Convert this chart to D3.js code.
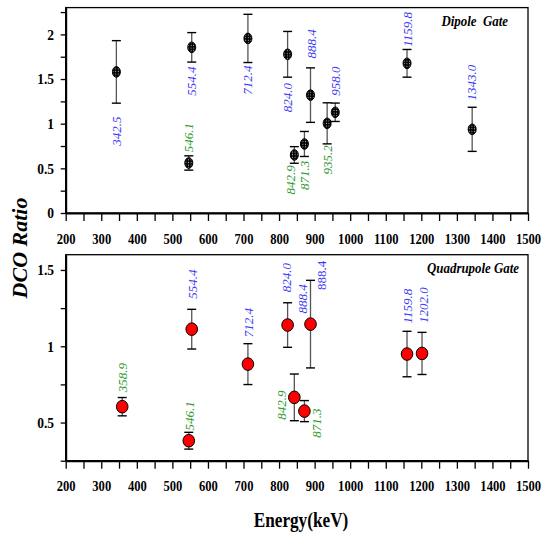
<!DOCTYPE html>
<html>
<head>
<meta charset="utf-8">
<script src="https://cdn.jsdelivr.net/npm/d3@7"></script>
<style>
  body { margin: 0; background: #fff; }
  svg { display: block; font-family: "Liberation Serif", "DejaVu Serif", serif; }
  .tick text { font-family: "Liberation Serif", serif; font-weight: bold; font-size: 15px; fill: #000; }
  .tick line { stroke: #000; stroke-width: 1.3; }
  .domain { stroke: #000; stroke-width: 2; }
</style>
</head>
<body>
<div id="chart"></div>
<script>

var svgWidth = 546;
var svgHeight = 535;

// x axis (shared)
var xTickLabels = [200, 300, 400, 500, 600, 700, 800, 900, 1000, 1100, 1200, 1300, 1400, 1500];

// Dipole gate (top panel)
var dipoleEnergy = [342.5, 546.1, 554.4, 712.4, 824.0, 842.9, 871.3, 888.4, 935.2, 958.0, 1159.8, 1343.0];
var dipoleRatio  = [1.58, 0.56, 1.855, 1.955, 1.777, 0.65, 0.773, 1.32, 1.004, 1.128, 1.676, 0.937];
var dipoleError  = [0.35, 0.08, 0.165, 0.27, 0.256, 0.093, 0.14, 0.305, 0.23, 0.103, 0.155, 0.247];
var dipoleLabel  = ["342.5", "546.1", "554.4", "712.4", "824.0", "842.9", "871.3", "888.4", "935.2", "958.0", "1159.8", "1343.0"];
var dipoleLabelColor = ["blue", "green", "blue", "blue", "blue", "green", "green", "blue", "green", "blue", "blue", "blue"];
// where each label sits, in data units (keV, ratio)
var dipoleLabelE = [342.5, 546.1, 554.4, 712.4, 824.0, 832.7, 870.0, 892.0, 935.0, 959.0, 1161.7, 1341.7];
var dipoleLabelR = [0.918, 0.845, 1.478, 1.489, 1.293, 0.37, 0.42, 1.893, 0.594, 1.478, 2.055, 1.461];
var dipoleYTicks = ["0", "0.5", "1", "1.5", "2"];

// Quadrupole gate (bottom panel)
var quadEnergy = [358.9, 546.1, 554.4, 712.4, 824.0, 842.9, 871.3, 888.4, 1159.8, 1202.0];
var quadRatio  = [0.604, 0.381, 1.112, 0.883, 1.139, 0.665, 0.575, 1.145, 0.949, 0.953];
var quadError  = [0.06, 0.055, 0.13, 0.134, 0.146, 0.153, 0.069, 0.287, 0.149, 0.138];
var quadLabel  = ["358.9", "546.1", "554.4", "712.4", "824.0", "842.9", "871.3", "888.4", "888.4", "1159.8", "1202.0"];
var quadLabelColor = ["green", "green", "blue", "blue", "blue", "green", "green", "blue", "blue", "blue", "blue"];
var quadLabelItalic = [true, true, true, true, true, true, true, true, false, true, true];
var quadLabelE = [360, 547.6, 556, 713.5, 821.5, 807.5, 906, 867, 920, 1160, 1205.6];
var quadLabelR = [0.795, 0.543, 1.407, 1.155, 1.45, 0.615, 0.497, 1.31, 1.464, 1.263, 1.27];
var quadYTicks = ["0.5", "1", "1.5"];

var colors = { blue: "#3c3cf5", green: "#2f9a2f" };

var svg = d3.select("#chart")
  .append("svg")
  .attr("width", svgWidth)
  .attr("height", svgHeight);

// dotted fill for the dipole markers
var pat = svg.append("defs").append("pattern")
  .attr("id", "dots")
  .attr("patternUnits", "userSpaceOnUse")
  .attr("width", 2.6)
  .attr("height", 2.6);
pat.append("rect").attr("width", 2.6).attr("height", 2.6).attr("fill", "#000");
pat.append("circle").attr("cx", 1.3).attr("cy", 1.3).attr("r", 0.55).attr("fill", "#bbb");

var xScale = d3.scaleLinear().domain([200, 1500]).range([65.7, 528]);
var xMinor = d3.range(200, 1501, 50);

function drawPanel(cfg) {
  var y = d3.scaleLinear().domain(cfg.domain).range([cfg.bottom, cfg.top]);
  var g = svg.append("g");

  g.append("rect")
    .attr("x", xScale.range()[0])
    .attr("y", cfg.top)
    .attr("width", xScale.range()[1] - xScale.range()[0])
    .attr("height", cfg.bottom - cfg.top)
    .attr("fill", "none")
    .attr("stroke", "#000")
    .attr("stroke-width", 1.3);

  var xAxis = d3.axisBottom(xScale)
    .tickValues(xMinor)
    .tickSize(8)
    .tickPadding(12)
    .tickSizeOuter(0)
    .tickFormat(d => xTickLabels.indexOf(d) >= 0 ? d : "");

  g.append("g")
    .attr("transform", `translate(0, ${cfg.bottom})`)
    .call(xAxis)
    .selectAll("text")
    .attr("transform", "scale(0.84,1)");

  var yVals = d3.range(cfg.domain[0], cfg.domain[1] + 1e-9, 0.25);
  var yAxis = d3.axisLeft(y)
    .tickValues(yVals)
    .tickSize(5)
    .tickPadding(8)
    .tickSizeOuter(0)
    .tickFormat(d => {
      var s = String(+d.toFixed(2));
      return cfg.yTicks.indexOf(s) >= 0 ? s : "";
    });

  g.append("g")
    .attr("transform", `translate(${xScale.range()[0]}, 0)`)
    .call(yAxis)
    .selectAll("text")
    .attr("transform", "scale(0.9,1)");

  // error bars
  var bars = g.selectAll(".err")
    .data(cfg.energy.map((e, i) => ({ e: e, r: cfg.ratio[i], s: cfg.error[i] })))
    .enter()
    .append("g");

  bars.append("line")
    .attr("x1", d => xScale(d.e))
    .attr("x2", d => xScale(d.e))
    .attr("y1", d => y(d.r + d.s))
    .attr("y2", d => y(d.r - d.s))
    .attr("stroke", "#555")
    .attr("stroke-width", 1.3);

  [1, -1].forEach(function(sign) {
    bars.append("line")
      .attr("x1", d => xScale(d.e) - 4.5)
      .attr("x2", d => xScale(d.e) + 4.5)
      .attr("y1", d => y(d.r + sign * d.s))
      .attr("y2", d => y(d.r + sign * d.s))
      .attr("stroke", "#000")
      .attr("stroke-width", 1.4);
  });

  bars.append("ellipse")
    .attr("cx", d => xScale(d.e))
    .attr("cy", d => y(d.r))
    .attr("rx", cfg.rx)
    .attr("ry", cfg.ry)
    .attr("fill", cfg.fill)
    .attr("stroke", "#000")
    .attr("stroke-width", 1);

  // rotated energy labels
  g.selectAll(".lbl")
    .data(cfg.label.map((t, i) => ({ t: t, e: cfg.labelE[i], r: cfg.labelR[i], c: cfg.labelColor[i],
      it: cfg.labelItalic ? cfg.labelItalic[i] : true })))
    .enter()
    .append("text")
    .attr("transform", d => `translate(${xScale(d.e)}, ${y(d.r)}) rotate(-90)`)
    .attr("text-anchor", "middle")
    .attr("dy", "0.35em")
    .attr("font-size", "13px")
    .attr("font-style", d => d.it ? "italic" : "normal")
    .attr("fill", d => colors[d.c])
    .text(d => d.t);

  g.append("text")
    .attr("transform", `translate(${cfg.titleX}, ${cfg.titleY}) scale(0.86,1)`)
    .attr("text-anchor", "end")
    .attr("font-size", "15px")
    .attr("font-weight", "bold")
    .attr("font-style", "italic")
    .style("white-space", "pre")
    .text(cfg.title);
}

drawPanel({
  domain: [0, 2.3], top: 7.6, bottom: 213,
  energy: dipoleEnergy, ratio: dipoleRatio, error: dipoleError,
  label: dipoleLabel, labelE: dipoleLabelE, labelR: dipoleLabelR, labelColor: dipoleLabelColor,
  yTicks: dipoleYTicks, rx: 4, ry: 5.3, fill: "url(#dots)",
  title: "Dipole  Gate", titleX: 508, titleY: 26
});

drawPanel({
  domain: [0.25, 1.6], top: 254.7, bottom: 460.7,
  energy: quadEnergy, ratio: quadRatio, error: quadError,
  label: quadLabel, labelE: quadLabelE, labelR: quadLabelR, labelColor: quadLabelColor,
  labelItalic: quadLabelItalic,
  yTicks: quadYTicks, rx: 5.8, ry: 6.3, fill: "#f00",
  title: "Quadrupole Gate", titleX: 519, titleY: 273
});

svg.append("text")
  .attr("transform", "translate(27, 248) rotate(-90)")
  .attr("text-anchor", "middle")
  .attr("font-size", "22px")
  .attr("font-weight", "bold")
  .attr("font-style", "italic")
  .text("DCO Ratio");

svg.append("text")
  .attr("transform", "translate(301, 527) scale(0.82,1)")
  .attr("text-anchor", "middle")
  .attr("font-size", "21px")
  .attr("font-weight", "bold")
  .text("Energy(keV)");

</script>
</body>
</html>
